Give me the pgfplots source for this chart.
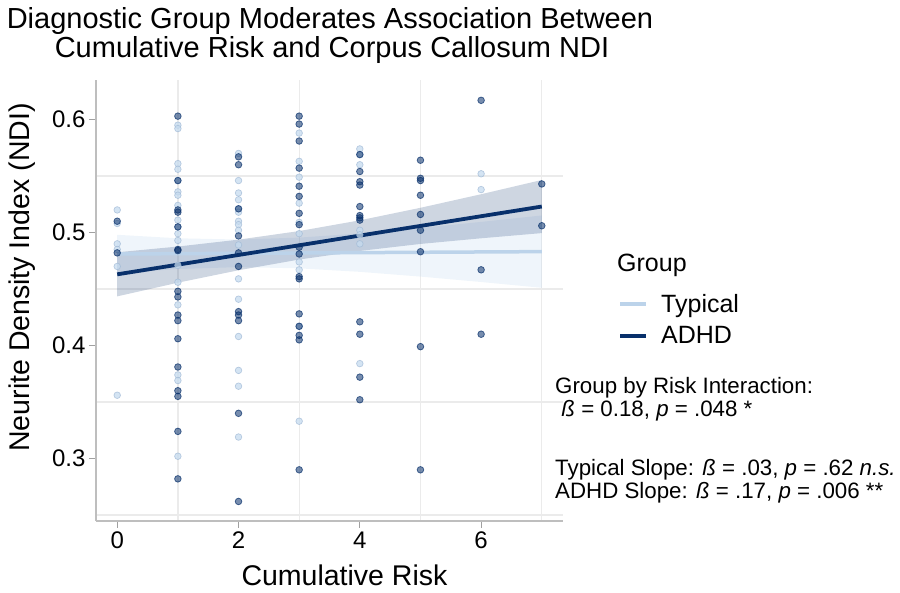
\documentclass[border=0pt]{standalone}
\usepackage{pgfplots}
\pgfplotsset{compat=1.18}
\usepackage{fontspec}
\setmainfont{Liberation Sans}
\definecolor{navy}{HTML}{08306B}
\definecolor{lightb}{HTML}{C6DBEF}
\definecolor{typline}{HTML}{BCD3EA}
\definecolor{gridc}{HTML}{EBEBEB}
\definecolor{axc}{HTML}{BEBEBE}
\definecolor{tickc}{HTML}{A0A0A0}

\pgfplotstableread{
x y
0 0.520
0 0.508
0 0.490
0 0.485
0 0.470
0 0.356
1 0.595
1 0.592
1 0.561
1 0.556
1 0.546
1 0.536
1 0.533
1 0.524
1 0.511
1 0.505
1 0.499
1 0.493
1 0.471
1 0.456
1 0.436
1 0.374
1 0.369
1 0.302
2 0.570
2 0.546
2 0.535
2 0.529
2 0.521
2 0.518
2 0.510
2 0.507
2 0.502
2 0.489
2 0.459
2 0.441
2 0.408
2 0.378
2 0.364
2 0.319
3 0.588
3 0.563
3 0.549
3 0.526
3 0.509
3 0.499
3 0.474
3 0.467
3 0.417
3 0.333
4 0.574
4 0.569
4 0.560
4 0.502
4 0.498
4 0.490
4 0.384
6 0.552
6 0.538
}\typical

\pgfplotstableread{
x y
0 0.510
0 0.482
1 0.603
1 0.546
1 0.520
1 0.518
1 0.505
1 0.485
1 0.484
1 0.448
1 0.443
1 0.427
1 0.422
1 0.406
1 0.381
1 0.360
1 0.355
1 0.324
1 0.282
2 0.567
2 0.560
2 0.521
2 0.497
2 0.482
2 0.470
2 0.430
2 0.427
2 0.422
2 0.340
2 0.262
3 0.603
3 0.596
3 0.581
3 0.557
3 0.541
3 0.532
3 0.517
3 0.507
3 0.487
3 0.481
3 0.461
3 0.459
3 0.428
3 0.417
3 0.409
3 0.405
3 0.290
4 0.569
4 0.554
4 0.545
4 0.542
4 0.523
4 0.515
4 0.513
4 0.511
4 0.421
4 0.410
4 0.372
4 0.352
5 0.564
5 0.548
5 0.546
5 0.533
5 0.516
5 0.502
5 0.483
5 0.399
5 0.290
6 0.617
6 0.467
6 0.410
7 0.543
7 0.506
}\adhd

\begin{document}
\begin{tikzpicture}[x=1pt,y=1pt]
\path[use as bounding box] (-96,-72) rectangle (804,521);
\begin{axis}[
  at={(0,0)}, anchor=south west,
  scale only axis, width=467pt, height=441pt,
  xmin=-0.35, xmax=7.35, ymin=0.2447, ymax=0.635,
  axis lines=left,
  axis line style={-, axc, line width=2.5pt},
  xtick={0,2,4,6}, ytick={0.3,0.4,0.5,0.6},
  minor xtick={1,3,5,7}, minor ytick={0.25,0.35,0.45,0.55},
  xminorgrids, yminorgrids,
  minor grid style={gridc, line width=1.3pt},
  minor tick length=0pt,
  major tick length=7pt,
  tick align=outside,
  major tick style={tickc, line width=1.2pt},
  /pgf/number format/assume math mode=true,
  tick label style={font=\fontsize{24}{24}\selectfont},
  yticklabel style={/pgf/number format/.cd, fixed, fixed zerofill, precision=1},
  xlabel={Cumulative Risk},
  ylabel={Neurite Density Index (NDI)},
  label style={font=\fontsize{28.5}{28.5}\selectfont},
  xlabel style={at={(axis description cs:0.5321,-0.1474)}, anchor=base},
  ylabel style={at={(axis description cs:-0.1420,0.5522)}, anchor=base, rotate=0},
  clip=false,
]
% points
\addplot[only marks, mark=*, mark size=3.3pt,
  mark options={fill=lightb, draw=lightb!80!navy, fill opacity=0.75, draw opacity=0.7, line width=0.7pt}]
  table[x=x,y=y] {\typical};
\addplot[only marks, mark=*, mark size=3.3pt,
  mark options={fill=navy, draw=navy, fill opacity=0.55, draw opacity=0.7, line width=0.8pt}]
  table[x=x,y=y] {\adhd};
% confidence bands
\addplot[draw=none, fill=lightb, fill opacity=0.28] coordinates {
 (0,0.4640) (1,0.4677) (2,0.4694) (3,0.4683) (4,0.4652) (5,0.4610) (6,0.4562) (7,0.4511)
 (7,0.5151) (6,0.5094) (5,0.5040) (4,0.4992) (3,0.4955) (2,0.4938) (1,0.4949) (0,0.4980)} -- cycle;
\addplot[draw=none, fill=navy, fill opacity=0.2] coordinates {
 (0,0.4435) (1,0.4556) (2,0.4666) (3,0.4761) (4,0.4837) (5,0.4899) (6,0.4949) (7,0.4995)
 (7,0.5465) (6,0.5339) (5,0.5219) (4,0.5108) (3,0.5013) (2,0.4937) (1,0.4876) (0,0.4825)} -- cycle;
% regression lines
\addplot[typline, line width=3.5pt] coordinates {(0,0.4810) (7,0.4831)};
\addplot[navy, line width=3.8pt] coordinates {(0,0.4630) (7,0.5230)};
\end{axis}

% title
\node[anchor=base, font=\fontsize{29}{29}\selectfont] at (234,492) {Diagnostic Group Moderates Association Between};
\node[anchor=base, font=\fontsize{29}{29}\selectfont] at (236,463) {Cumulative Risk and Corpus Callosum NDI};

% legend
\node[anchor=base west, inner sep=0pt, font=\fontsize{25}{25}\selectfont] at (521,249) {Group};
\draw[typline, line width=4pt] (524,217) -- (550,217);
\draw[navy, line width=4pt] (524,185) -- (550,185);
\node[anchor=base west, inner sep=0pt, font=\fontsize{25}{25}\selectfont] at (565,208) {Typical};
\node[anchor=base west, inner sep=0pt, font=\fontsize{25}{25}\selectfont] at (565,177) {ADHD};

% annotation
\begin{scope}[every node/.style={anchor=base west, inner sep=0pt, font=\fontsize{22.3}{22.3}\selectfont}]
\node at (459,127) {Group by Risk Interaction:};
\node at (459,104) {\hspace{0.28em}\textit{ß} = 0.18, \textit{p} = .048 *};
\node at (459,45) {Typical Slope: \textit{ß} = .03, \textit{p} = .62 \textit{n.s.}};
\node at (459,22) {ADHD Slope: \textit{ß} = .17, \textit{p} = .006 **};
\end{scope}
\end{tikzpicture}
\end{document}
